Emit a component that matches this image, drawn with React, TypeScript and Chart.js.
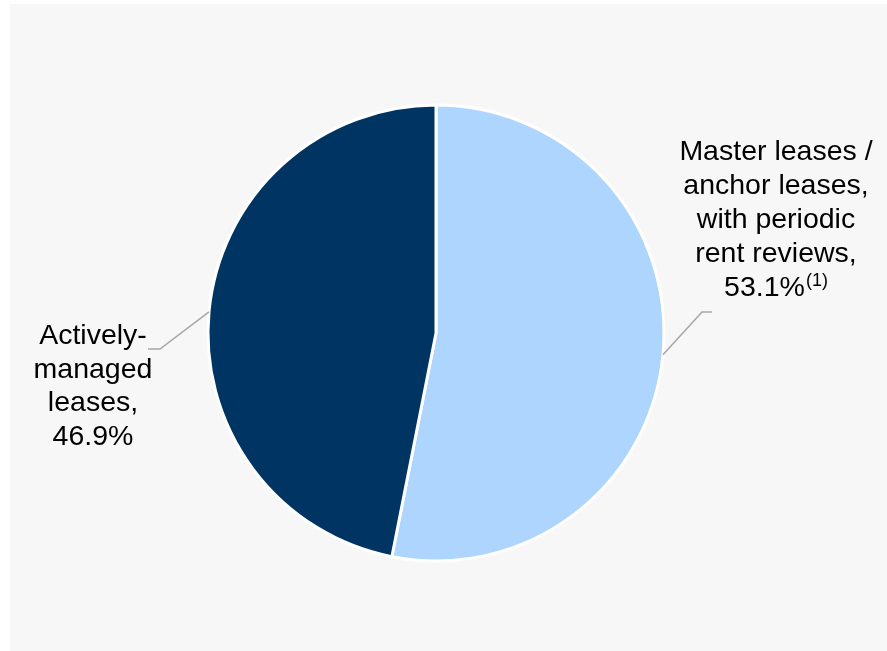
import React, { useEffect, useRef } from "react";
import { Chart, registerables } from "chart.js";

Chart.register(...registerables);

const categories = [
  "Master leases / anchor leases, with periodic rent reviews",
  "Actively-managed leases",
];
const values = [53.1, 46.9];
const colors = ["#ADD5FD", "#003462"];
const rightLabelLines = ["Master leases /", "anchor leases,", "with periodic", "rent reviews,"];
const rightValueText = "53.1%";
const rightNote = "(1)";
const leftLabelLines = ["Actively-", "managed", "leases,", "46.9%"];

const FONT_MAIN = "28.5px 'Liberation Sans', Arial, sans-serif";
const FONT_NOTE = "18px 'Liberation Sans', Arial, sans-serif";

const labelPlugin = {
  id: "pieLabels",
  afterDraw(chart: any) {
    const ctx = chart.ctx as CanvasRenderingContext2D;
    const arc = chart.getDatasetMeta(0).data[0];
    if (!arc) return;
    const cx = arc.x;
    const cy = arc.y;
    const r = arc.outerRadius;
    ctx.save();
    ctx.strokeStyle = "#A6A6A6";
    ctx.lineWidth = 1.5;
    const ra = (5.5 * Math.PI) / 180;
    ctx.beginPath();
    ctx.moveTo(cx + r * Math.cos(ra), cy + r * Math.sin(ra));
    ctx.lineTo(cx + 266, cy - 21);
    ctx.lineTo(cx + 276, cy - 21);
    ctx.stroke();
    const la = (185.3 * Math.PI) / 180;
    ctx.beginPath();
    ctx.moveTo(cx + r * Math.cos(la), cy + r * Math.sin(la));
    ctx.lineTo(cx - 276, cy + 16);
    ctx.lineTo(cx - 288, cy + 16);
    ctx.stroke();

    ctx.fillStyle = "#000000";
    ctx.textAlign = "center";
    ctx.textBaseline = "alphabetic";
    ctx.font = FONT_MAIN;
    const rx = 776;
    const rBase = 160;
    const lh = 34;
    rightLabelLines.forEach((t, i) => ctx.fillText(t, rx, rBase + i * lh));
    const mainW = ctx.measureText(rightValueText).width;
    ctx.font = FONT_NOTE;
    const noteW = ctx.measureText(rightNote).width;
    const total = mainW + noteW + 1;
    const startX = rx - total / 2;
    ctx.textAlign = "left";
    ctx.font = FONT_MAIN;
    ctx.fillText(rightValueText, startX, rBase + 4 * lh);
    ctx.font = FONT_NOTE;
    ctx.fillText(rightNote, startX + mainW + 1, rBase + 4 * lh - 10);

    ctx.textAlign = "center";
    ctx.font = FONT_MAIN;
    const lx = 93;
    const lBase = 344;
    leftLabelLines.forEach((t, i) => ctx.fillText(t, lx, lBase + i * 33.5));
    ctx.restore();
  },
};

export default function App() {
  const ref = useRef<HTMLCanvasElement>(null);
  useEffect(() => {
    if (!ref.current) return;
    const chart = new Chart(ref.current, {
      type: "pie",
      data: {
        labels: categories,
        datasets: [
          {
            data: values,
            backgroundColor: colors,
            borderColor: "#FFFFFF",
            borderWidth: 3,
          },
        ],
      },
      options: {
        animation: false,
        responsive: false,
        maintainAspectRatio: false,
        radius: 228,
        layout: { padding: { left: 0, right: 15, top: 15, bottom: 0 } },
        plugins: {
          legend: { display: false },
          tooltip: { enabled: false },
          title: { display: false },
        },
      } as any,
      plugins: [labelPlugin],
    });
    return () => chart.destroy();
  }, []);

  return (
    <div style={{ position: "absolute", left: 0, top: 0, width: 887, height: 651, background: "#FFFFFF" }}>
      <div style={{ position: "absolute", left: 10, top: 4, width: 877, height: 647, background: "#F7F7F7" }} />
      <canvas ref={ref} width={887} height={651} style={{ position: "absolute", left: 0, top: 0, width: 887, height: 651 }} />
    </div>
  );
}
